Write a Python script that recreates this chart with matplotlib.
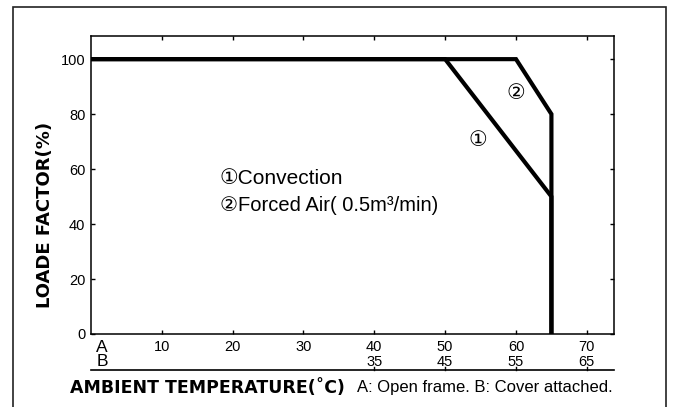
import matplotlib
matplotlib.use('Agg')
import matplotlib.pyplot as plt
from matplotlib.patches import Rectangle

# derating data (A: open frame temperature)
convection_x = [0, 50, 65, 65]
convection_y = [100, 100, 50, 0]
forced_x = [0, 60, 65, 65]
forced_y = [100, 100, 80, 0]

y_ticks = [0, 20, 40, 60, 80, 100]
a_ticks = [10, 20, 30, 40, 50, 60, 70]
b_pos = [40, 50, 60, 70]
b_labels = ['35', '45', '55', '65']

NARROW = ['Liberation Sans Narrow', 'Liberation Sans', 'DejaVu Sans']
CIRC = ['Liberation Sans', 'DejaVu Sans', 'Noto Sans CJK JP']

fig = plt.figure(figsize=(6.73, 4.07), dpi=100)
ax = fig.add_axes([0.135, 0.1794, 0.777, 0.732])

# outer frame of the figure
fig.patches.append(Rectangle((13 / 673, -0.05), 653 / 673, 1.05 - 7 / 407,
                             transform=fig.transFigure, fill=False,
                             edgecolor='#222222', linewidth=1.2, clip_on=False))

ax.plot(convection_x, convection_y, color='black', lw=3.0, solid_joinstyle='miter')
ax.plot(forced_x, forced_y, color='black', lw=3.0, solid_joinstyle='miter')

ax.set_xlim(0, 73.8)
ax.set_ylim(0, 108.4)
for s in ax.spines.values():
    s.set_linewidth(1.1)

ax.set_yticks(y_ticks)
ax.set_yticklabels([str(v) for v in y_ticks], family=NARROW, fontsize=10.5)
ax.set_xticks(a_ticks)
ax.set_xticklabels([str(v) for v in a_ticks], family=NARROW, fontsize=10.5)
ax.tick_params(direction='in', length=3, width=1, top=True, right=True, pad=4)

# second row of temperature labels (cover attached)
tr = ax.get_xaxis_transform()
ax.text(1.6, -0.044, 'A', transform=tr, ha='center', va='center', family=NARROW, fontsize=12.5)
ax.text(1.6, -0.094, 'B', transform=tr, ha='center', va='center', family=NARROW, fontsize=12.5)
for p, lab in zip(b_pos, b_labels):
    ax.text(p, -0.094, lab, transform=tr, ha='center', va='center', family=NARROW, fontsize=10.5)
    ax.plot([p, p], [-0.121, -0.111], transform=tr, color='black', lw=1, clip_on=False)
ax.plot([0, 73.8], [-0.121, -0.121], transform=tr, color='black', lw=1.2, clip_on=False)

# legend text and curve markers
ax.text(18.2, 56.7, '①Convection', family=CIRC, fontsize=15, va='center', ha='left')
ax.text(18.2, 46.9, '②Forced Air( 0.5m³/min)', family=CIRC, fontsize=14.5, va='center', ha='left')
ax.text(54.6, 70.5, '①', family=CIRC, fontsize=15, ha='center', va='center')
ax.text(60.0, 87.6, '②', family=CIRC, fontsize=15, ha='center', va='center')

fig.text(0.067, 0.472, 'LOADE FACTOR(%)', rotation=90, ha='center', va='center',
         fontsize=13, fontweight='bold', family='DejaVu Sans')
fig.text(0.104, 0.0467, 'AMBIENT TEMPERATURE(˚C)', ha='left', va='center',
         fontsize=12.5, fontweight='bold', family='DejaVu Sans')
fig.text(0.530, 0.0467, 'A: Open frame. B: Cover attached.', ha='left', va='center',
         fontsize=12, family='Liberation Sans')

fig.savefig('out.png', dpi=100)
